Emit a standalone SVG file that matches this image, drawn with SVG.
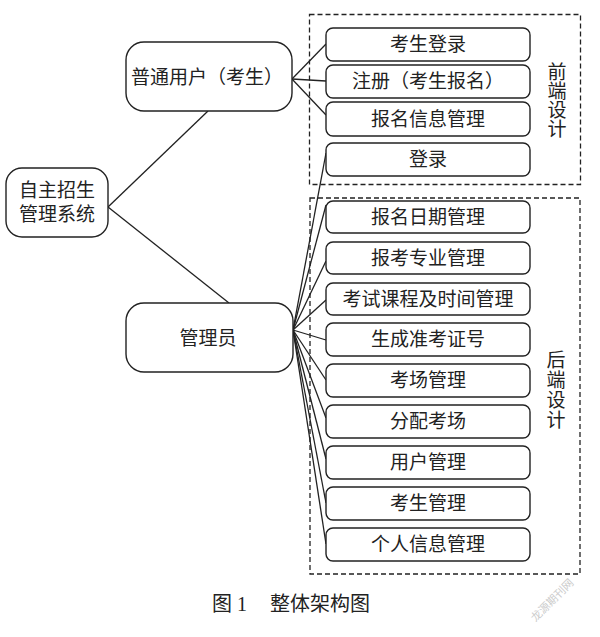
<svg xmlns="http://www.w3.org/2000/svg" width="600" height="637" viewBox="0 0 600 637">
<style>
text{font-family:"Liberation Serif","Noto Sans CJK SC",serif;fill:#222;}
.n{fill:#fff;stroke:#222;stroke-width:1.4;}
.t{font-size:19px;text-anchor:middle;dominant-baseline:central;}
.d{fill:none;stroke:#222;stroke-width:1.3;stroke-dasharray:5,3;}
.c line{stroke:#222;stroke-width:1.3;}
</style>
<rect width="600" height="637" fill="#fff"/>
<g id="groups">
<rect class="d" x="309.5" y="14.5" width="271" height="170"/>
<rect class="d" x="310" y="198" width="270" height="376"/>
<text class="t" x="557" y="72">前</text>
<text class="t" x="557" y="91">端</text>
<text class="t" x="557" y="110">设</text>
<text class="t" x="557" y="129">计</text>
<text class="t" x="556" y="360">后</text>
<text class="t" x="556" y="380">端</text>
<text class="t" x="556" y="400">设</text>
<text class="t" x="556" y="420">计</text>
</g>
<g class="c" id="connectors">
<line x1="108" y1="207" x2="208" y2="111"/>
<line x1="108" y1="207" x2="229" y2="303"/>
<line x1="292" y1="79" x2="326" y2="44"/>
<line x1="292" y1="79" x2="326" y2="81"/>
<line x1="292" y1="79" x2="326" y2="115"/>
<line x1="293" y1="330" x2="326" y2="153"/>
<line x1="293" y1="330" x2="326" y2="205"/>
<line x1="293" y1="330" x2="326" y2="261"/>
<line x1="293" y1="330" x2="326" y2="300"/>
<line x1="293" y1="330" x2="326" y2="340"/>
<line x1="293" y1="330" x2="326" y2="380"/>
<line x1="293" y1="330" x2="326" y2="418"/>
<line x1="293" y1="330" x2="326" y2="459"/>
<line x1="293" y1="330" x2="326" y2="503"/>
<line x1="293" y1="330" x2="326" y2="544"/>
</g>
<g id="root"><rect class="n" x="6" y="168" width="102" height="69" rx="16"/>
<text class="t" x="57" y="190">自主招生</text><text class="t" x="57" y="214">管理系统</text></g>
<g id="user"><rect class="n" x="126" y="42" width="166" height="69" rx="18"/>
<text class="t" x="207" y="77">普通用户（考生）</text></g>
<g id="admin"><rect class="n" x="126" y="303" width="167" height="69" rx="18"/>
<text class="t" x="208" y="338">管理员</text></g>
<g id="f1"><rect class="n" x="326" y="28" width="204" height="33" rx="7"/><text class="t" x="428" y="44.5">考生登录</text></g>
<g id="f2"><rect class="n" x="326" y="65" width="204" height="33" rx="7"/><text class="t" x="428" y="81.5">注册（考生报名）</text></g>
<g id="f3"><rect class="n" x="326" y="102" width="204" height="34" rx="7"/><text class="t" x="428" y="119">报名信息管理</text></g>
<g id="f4"><rect class="n" x="326" y="143" width="204" height="33" rx="7"/><text class="t" x="428" y="159.5">登录</text></g>
<g id="b1"><rect class="n" x="326" y="201" width="204" height="32" rx="7"/><text class="t" x="428" y="217">报名日期管理</text></g>
<g id="b2"><rect class="n" x="326" y="242" width="204" height="32" rx="7"/><text class="t" x="428" y="258">报考专业管理</text></g>
<g id="b3"><rect class="n" x="326" y="283" width="204" height="32" rx="7"/><text class="t" x="428" y="299">考试课程及时间管理</text></g>
<g id="b4"><rect class="n" x="326" y="323" width="204" height="33" rx="7"/><text class="t" x="428" y="339.5">生成准考证号</text></g>
<g id="b5"><rect class="n" x="326" y="364" width="204" height="33" rx="7"/><text class="t" x="428" y="380.5">考场管理</text></g>
<g id="b6"><rect class="n" x="326" y="405" width="204" height="33" rx="7"/><text class="t" x="428" y="421.5">分配考场</text></g>
<g id="b7"><rect class="n" x="326" y="446" width="204" height="33" rx="7"/><text class="t" x="428" y="462.5">用户管理</text></g>
<g id="b8"><rect class="n" x="326" y="487" width="204" height="33" rx="7"/><text class="t" x="428" y="503.5">考生管理</text></g>
<g id="b9"><rect class="n" x="326" y="528" width="204" height="33" rx="7"/><text class="t" x="428" y="544.5">个人信息管理</text></g>
<text x="212" y="611" style="font-size:20px">图 1</text>
<text x="270" y="611" style="font-size:20px">整体架构图</text>
<text x="552" y="604" transform="rotate(-45 552 600)" style="font-size:11px;fill:#ccc;text-anchor:middle">龙源期刊网</text>
</svg>
